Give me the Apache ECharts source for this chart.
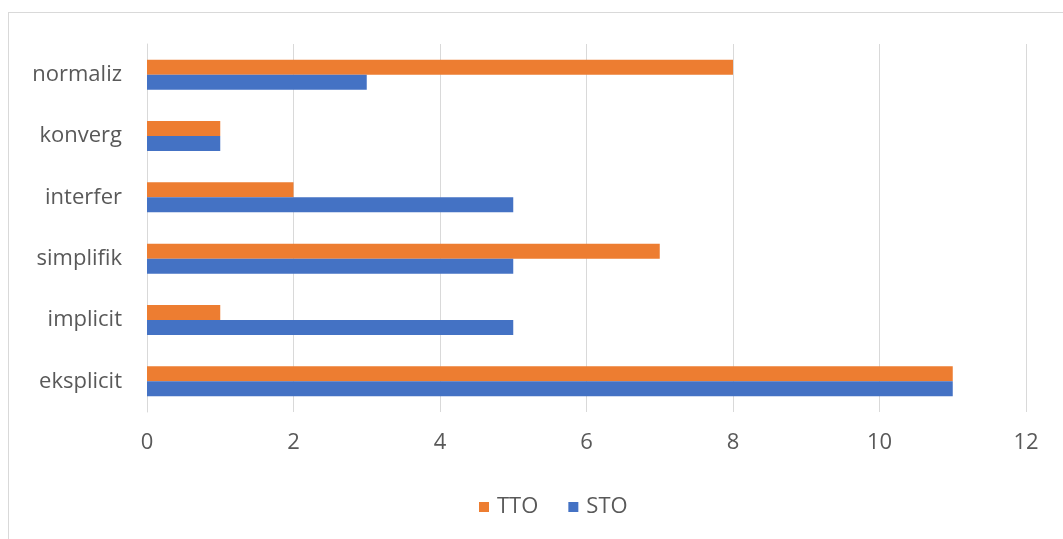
<!DOCTYPE html>
<html><head><meta charset="utf-8">
<script src="https://cdn.jsdelivr.net/npm/echarts@6/dist/echarts.min.js"></script>
<style>
html,body{margin:0;padding:0;background:#fff;}
#frame{position:absolute;left:8px;top:12px;width:1070px;height:540px;border:1px solid #d9d9d9;box-sizing:border-box;}
#c{position:absolute;left:0;top:0;width:1063px;height:539px;}
</style></head>
<body>
<div id="frame"></div>
<div id="c"></div>
<script>
const categories = ['eksplicit','implicit','simplifik','interfer','konverg','normaliz'];
const stoValues = [11,5,5,5,1,3];
const ttoValues = [11,1,7,2,1,8];
const xTicks = {min:0,max:12,interval:2};

const chart = echarts.init(document.getElementById('c'));
const font = 'Open Sans, Noto Sans, sans-serif';
chart.setOption({
  animation:false,
  grid:{left:147,right:37,top:44,bottom:127,containLabel:false},
  legend:{data:['TTO','STO'],top:491,left:474,icon:'rect',itemWidth:10,itemHeight:10,itemGap:30,
    textStyle:{color:'#595959',fontSize:22,fontFamily:font,padding:[0,0,0,3]}},
  xAxis:{type:'value',min:xTicks.min,max:xTicks.max,interval:xTicks.interval,
    axisLine:{show:false},axisTick:{show:false},
    splitLine:{lineStyle:{color:'#d9d9d9',width:1}},
    axisLabel:{color:'#595959',fontSize:22,fontFamily:font,margin:20}},
  yAxis:{type:'category',data:categories,
    axisLine:{lineStyle:{color:'#d9d9d9'}},axisTick:{show:false},
    axisLabel:{color:'#595959',fontSize:22,fontFamily:font,margin:25}},
  series:[
    {name:'TTO',type:'bar',data:ttoValues,barWidth:15,barGap:'0%',itemStyle:{color:'#ED7D31'}},
    {name:'STO',type:'bar',data:stoValues,barWidth:15,barGap:'0%',itemStyle:{color:'#4472C4'}}
  ]
});
</script>
</body></html>
